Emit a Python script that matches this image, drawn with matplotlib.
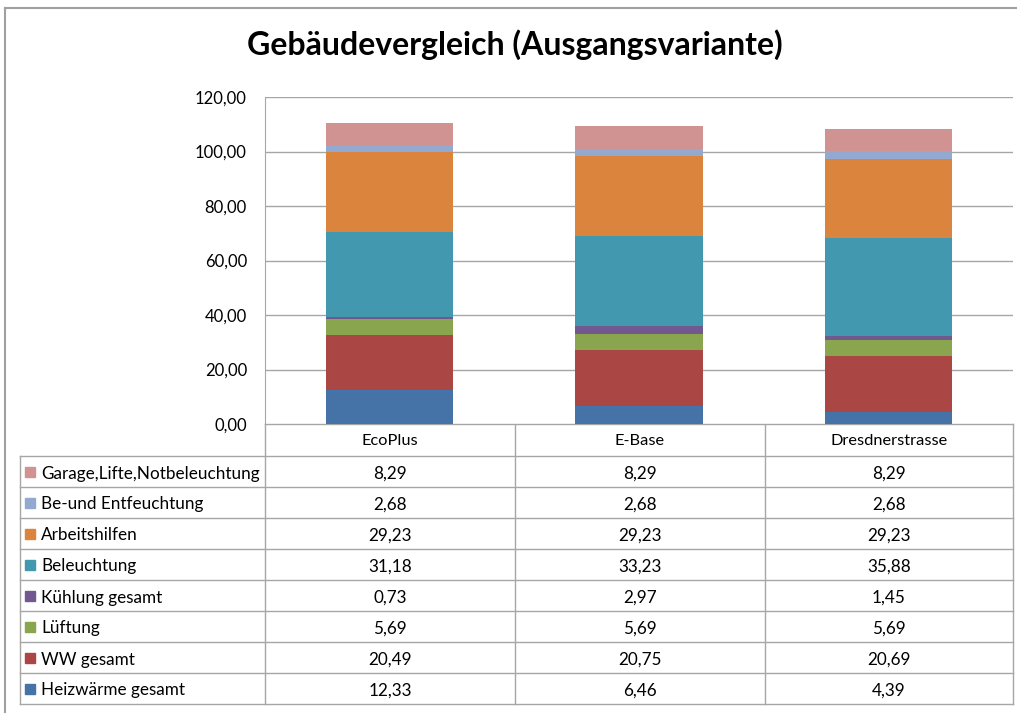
import numpy as np
import matplotlib.pyplot as plt

# data from the chart's table
buildings = ["EcoPlus", "E-Base", "Dresdnerstrasse"]
series = ["Heizwärme gesamt", "WW gesamt", "Lüftung", "Kühlung gesamt",
          "Beleuchtung", "Arbeitshilfen", "Be-und Entfeuchtung",
          "Garage,Lifte,Notbeleuchtung"]
heiz = [12.33, 6.46, 4.39]
ww = [20.49, 20.75, 20.69]
lueftung = [5.69, 5.69, 5.69]
kuehlung = [0.73, 2.97, 1.45]
beleuchtung = [31.18, 33.23, 35.88]
arbeitshilfen = [29.23, 29.23, 29.23]
entfeuchtung = [2.68, 2.68, 2.68]
garage = [8.29, 8.29, 8.29]
values = [heiz, ww, lueftung, kuehlung, beleuchtung, arbeitshilfen, entfeuchtung, garage]
colors = ["#4572A7", "#AA4643", "#89A54E", "#71588F",
          "#4198AF", "#DB843D", "#93A9CF", "#D19392"]

plt.rcParams['font.family'] = ['Lato', 'DejaVu Sans']
W, H = 1017, 713
fig = plt.figure(figsize=(W / 100, H / 100), dpi=100)
grid_c = "#a6a6a6"

# plot area in pixel coords
x0, x1, ytop, ybot = 265, 1013, 97, 424
ax = fig.add_axes([x0 / W, 1 - ybot / H, (x1 - x0) / W, (ybot - ytop) / H])
x = np.arange(len(buildings))
bottom = np.zeros(len(buildings))
for vals, c, name in zip(values, colors, series):
    ax.bar(x, vals, 0.51, bottom=bottom, color=c, label=name, zorder=3)
    bottom += np.array(vals)
ax.set_xlim(-0.5, 2.5)
ax.set_ylim(0, 120)
ax.set_yticks(range(0, 121, 20))
ax.set_yticklabels([f"{v:.2f}".replace(".", ",") for v in range(0, 121, 20)], fontsize=12)
ax.tick_params(axis='y', length=0, pad=13)
ax.set_xticks([])
ax.grid(axis='y', color=grid_c, linewidth=1, zorder=0)
for s in ["top", "right", "bottom"]:
    ax.spines[s].set_visible(False)
ax.spines["left"].set_color(grid_c)

# overlay for table, title and frame (pixel coordinates)
ov = fig.add_axes([0, 0, 1, 1], zorder=-1)
ov.set_xlim(0, W)
ov.set_ylim(H, 0)
ov.axis("off")
ov.patch.set_alpha(0)

ov.plot([5, 5], [8, H], color="#a0a0a0", lw=1.5)
ov.plot([5, W], [8, 8], color="#a0a0a0", lw=1.5)
ov.text(515, 45, "Gebäudevergleich (Ausgangsvariante)", ha="center", va="center",
        fontsize=23, fontweight="bold")

cols = [265, 515, 765, 1013]
tleft = 20
head_top, head_bot = 424, 456
row_h = (704 - head_bot) / len(series)
for cx in cols:
    ov.plot([cx, cx], [head_top, 704], color=grid_c, lw=1)
ov.plot([cols[0], cols[-1]], [head_top, head_top], color=grid_c, lw=1)
ov.plot([tleft, tleft], [head_bot, 704], color=grid_c, lw=1)
for i in range(len(series) + 1):
    yy = head_bot + i * row_h
    ov.plot([tleft, cols[-1]], [yy, yy], color=grid_c, lw=1)
for j, b in enumerate(buildings):
    ov.text((cols[j] + cols[j + 1]) / 2, (head_top + head_bot) / 2 + 1, b,
            ha="center", va="center", fontsize=11.8)

# rows listed top-down in reverse stacking order
for i, k in enumerate(range(len(series) - 1, -1, -1)):
    yc = head_bot + (i + 0.5) * row_h + 2
    ov.add_patch(plt.Rectangle((25, yc - 7), 10, 10, color=colors[k]))
    ov.text(41, yc, series[k], ha="left", va="center", fontsize=12.3)
    for j in range(len(buildings)):
        ov.text((cols[j] + cols[j + 1]) / 2, yc, f"{values[k][j]:.2f}".replace(".", ","),
                ha="center", va="center", fontsize=12.3)

fig.savefig("out.png", dpi=100)
